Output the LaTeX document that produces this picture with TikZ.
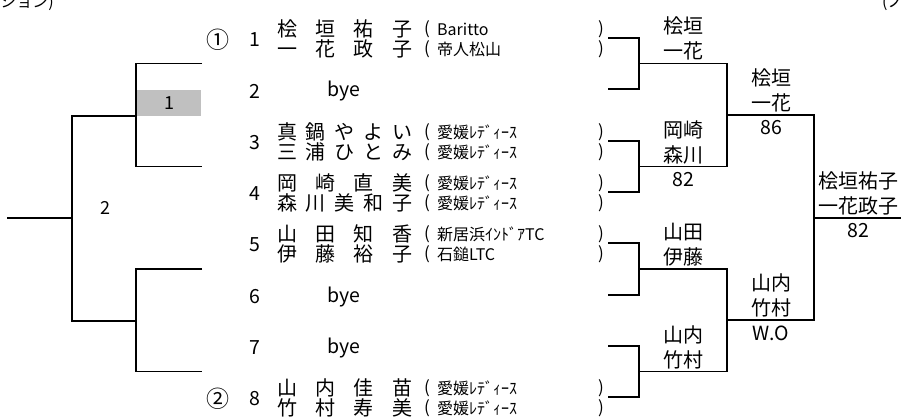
\documentclass[tikz,border=0pt]{standalone}
\usepackage{fontspec}
\setmainfont{Noto Sans CJK JP}
\definecolor{boxgray}{RGB}{192,192,192}
\newcommand\nmb[1]{\makebox[135pt][l]{#1}}
\newcommand\prow[4]{%
  \node[nm] (nm#1) at (277,#2) {\nmb{#3}};
  \node[pr] (lp#1) at (427,#2) {(};
  \node[tm] (tm#1) at (437,#2) {#4};
  \node[pr] (rp#1) at (601,#2) {)};
}
\begin{document}
\begin{tikzpicture}[x=1pt,y=-1pt,
  ln/.style={line width=1.9pt},
  nm/.style={anchor=west,inner sep=0pt,font=\fontsize{20}{20}\selectfont},
  tm/.style={anchor=west,inner sep=0pt,font=\fontsize{16}{16}\selectfont},
  pr/.style={inner sep=0pt,font=\fontsize{17}{17}\selectfont},
  num/.style={inner sep=0pt,font=\fontsize{19.5}{19.5}\selectfont},
  lb/.style={inner sep=0pt,font=\fontsize{20}{20}\selectfont},
  hd/.style={inner sep=0pt,font=\fontsize{16}{16}\selectfont},
]
\useasboundingbox (0,0) rectangle (901,419);
\clip (0,0) rectangle (901,419);

% clipped header fragments
\node[hd,anchor=base east] (hl) at (54,8) {ション)};
\node[hd,anchor=base west] (hr) at (882,8) {(ノ};

% ---------- left side ----------
\fill[boxgray] (137,90) rectangle (201,116);
\node[num,font=\fontsize{18}{18}\selectfont] (g1) at (169,103) {1};
\node[num,font=\fontsize{18}{18}\selectfont] (g2) at (105,208) {2};

\coordinate (L1a) at (202,63.5);  \coordinate (L1b) at (202,166.5);
\coordinate (L2a) at (202,269);   \coordinate (L2b) at (202,371.5);
\coordinate (L3a) at (137,116);   \coordinate (L3b) at (137,321);
\coordinate (L4) at (7,218);

\draw[ln] (L1a) -- (136,63.5) -- (136,166.5) -- (L1b);
\draw[ln] (L2a) -- (136,269) -- (136,371.5) -- (L2b);
\draw[ln] (L3a) -- (72,116) -- (72,321) -- (L3b);
\draw[ln] (72,218) -- (L4);

% ---------- entries ----------
\node[num,font=\fontsize{23}{23}\selectfont] (sd1) at (218,40) {①};
\node[num,font=\fontsize{23}{23}\selectfont] (sd8) at (218,399) {②};
\node[num] (no1) at (255,40) {1};
\node[num] (no2) at (255,91) {2};
\node[num] (no3) at (255,143) {3};
\node[num] (no4) at (255,194) {4};
\node[num] (no5) at (255,245) {5};
\node[num] (no6) at (255,297) {6};
\node[num] (no7) at (255,348) {7};
\node[num] (no8) at (255,399) {8};

\node[num] (bye2) at (344,91) {bye};
\node[num] (bye6) at (344,297) {bye};
\node[num] (bye7) at (344,348) {bye};

\prow{1a}{29}{桧\hfill 垣\hfill 祐\hfill 子}{Baritto}
\prow{1b}{49}{一\hfill 花\hfill 政\hfill 子}{帝人松山}
\prow{3a}{132}{真\hfill 鍋\hfill や\hfill よ\hfill い}{愛媛ﾚﾃﾞｨｰｽ}
\prow{3b}{152}{三\hfill 浦\hfill ひ\hfill と\hfill み}{愛媛ﾚﾃﾞｨｰｽ}
\prow{4a}{183}{岡\hfill 崎\hfill 直\hfill 美}{愛媛ﾚﾃﾞｨｰｽ}
\prow{4b}{203}{森\hfill 川\hfill 美\hfill 和\hfill 子}{愛媛ﾚﾃﾞｨｰｽ}
\prow{5a}{234}{山\hfill 田\hfill 知\hfill 香}{新居浜ｲﾝﾄﾞｱTC}
\prow{5b}{254}{伊\hfill 藤\hfill 裕\hfill 子}{石鎚LTC}
\prow{8a}{388}{山\hfill 内\hfill 佳\hfill 苗}{愛媛ﾚﾃﾞｨｰｽ}
\prow{8b}{408}{竹\hfill 村\hfill 寿\hfill 美}{愛媛ﾚﾃﾞｨｰｽ}

% ---------- right side brackets ----------
\coordinate (e1) at (608,38);   \coordinate (e2) at (608,89);
\coordinate (e3) at (608,141);  \coordinate (e4) at (608,192);
\coordinate (e5) at (608,243);  \coordinate (e6) at (608,295);
\coordinate (e7) at (608,346);  \coordinate (e8) at (608,397);

\draw[ln] (e1) -- (639,38) -- (639,89) -- (e2);
\draw[ln] (e3) -- (639,141) -- (639,192) -- (e4);
\draw[ln] (e5) -- (639,243) -- (639,295) -- (e6);
\draw[ln] (e7) -- (639,346) -- (639,397) -- (e8);

\coordinate (w1) at (639,63.5);  \coordinate (w2) at (639,166.5);
\coordinate (w3) at (639,269);   \coordinate (w4) at (639,371.5);
\draw[ln] (w1) -- (727,63.5) -- (727,166.5) -- (w2);
\draw[ln] (w3) -- (727,269) -- (727,371.5) -- (w4);

\coordinate (v1) at (727,115);  \coordinate (v2) at (727,320);
\draw[ln] (v1) -- (814,115) -- (814,320) -- (v2);
\coordinate (fin) at (901,218);
\draw[ln] (814,218) -- (fin);

% ---------- round labels ----------
\node[lb] (r1a) at (683,26) {桧垣};
\node[lb] (r1b) at (683,51) {一花};
\node[lb] (r2a) at (683,129.5) {岡崎};
\node[lb] (r2b) at (683,154.5) {森川};
\node[num] (r2s) at (683,180) {82};
\node[lb] (r3a) at (683,232) {山田};
\node[lb] (r3b) at (683,257) {伊藤};
\node[lb] (r4a) at (683,334.5) {山内};
\node[lb] (r4b) at (683,359.5) {竹村};

\node[lb] (q1a) at (771,78) {桧垣};
\node[lb] (q1b) at (771,103) {一花};
\node[num] (q1s) at (771,128) {86};
\node[lb] (q2a) at (771,283) {山内};
\node[lb] (q2b) at (771,308) {竹村};
\node[num] (q2s) at (771,333) {W.O};

\node[lb] (f1) at (858,181) {桧垣祐子};
\node[lb] (f2) at (858,206) {一花政子};
\node[num] (fs) at (858,231) {82};
\end{tikzpicture}
\end{document}
